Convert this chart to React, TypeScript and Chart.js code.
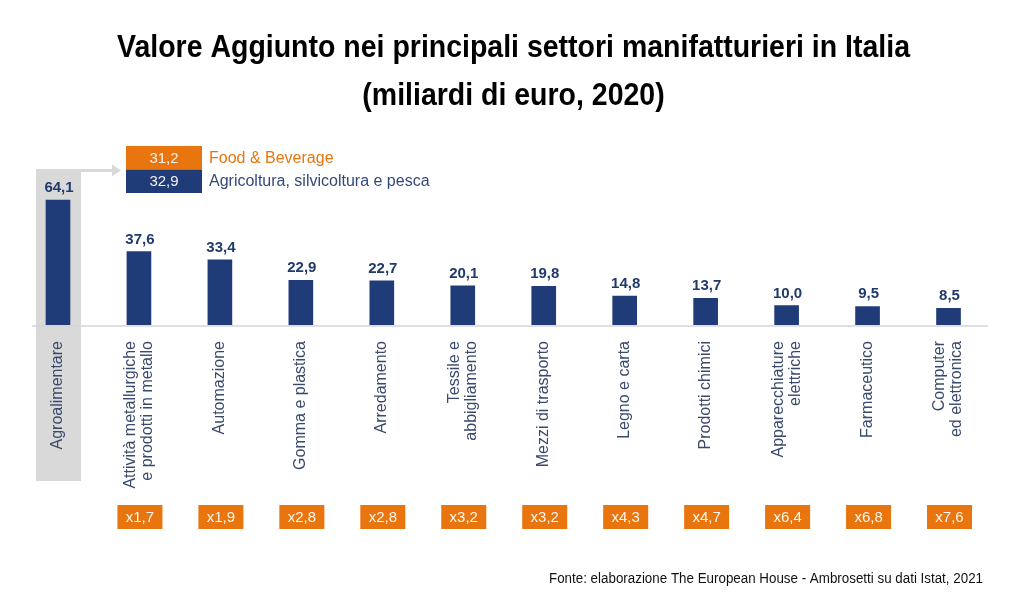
import React, { useEffect, useRef } from "react";
import { Chart, registerables } from "chart.js";

Chart.register(...registerables);

const titleLines = [
  "Valore Aggiunto nei principali settori manifatturieri in Italia",
  "(miliardi di euro, 2020)",
];
const categories: (string | string[])[] = [
  "Agroalimentare",
  ["Attività metallurgiche", "e prodotti in metallo"],
  "Automazione",
  "Gomma e plastica",
  "Arredamento",
  ["Tessile e", "abbigliamento"],
  "Mezzi di trasporto",
  "Legno e carta",
  "Prodotti chimici",
  ["Apparecchiature", "elettriche"],
  "Farmaceutico",
  ["Computer", "ed elettronica"],
];
const values = [64.1, 37.6, 33.4, 22.9, 22.7, 20.1, 19.8, 14.8, 13.7, 10.0, 9.5, 8.5];
const multipliers = ["", "x1,7", "x1,9", "x2,8", "x2,8", "x3,2", "x3,2", "x4,3", "x4,7", "x6,4", "x6,8", "x7,6"];
const legendLabels = ["Food & Beverage", "Agricoltura, silvicoltura e pesca"];
const legendValues = [31.2, 32.9];
const sourceNote = "Fonte: elaborazione The European House - Ambrosetti su dati Istat, 2021";

const NAVY = "#1f3c78";
const ORANGE = "#e8750e";
const GRAY_BG = "#d9d9d9";
const LABEL_COLOR = "#3a4a6c";
const SANS = '"Liberation Sans", Arial, sans-serif';
const NARROW = '"Liberation Sans Narrow", "Arial Narrow", "Liberation Sans", Arial, sans-serif';

const fmt = (v: number) => v.toFixed(1).replace(".", ",");

const decorPlugin = {
  id: "decor",
  beforeDatasetsDraw(chart: any) {
    const ctx = chart.ctx;
    const x = chart.scales.x;
    const cx0 = x.getPixelForValue(0);
    ctx.save();
    ctx.fillStyle = GRAY_BG;
    ctx.fillRect(cx0 - 22, 169, 45, 312);
    // arrow to legend
    ctx.strokeStyle = GRAY_BG;
    ctx.lineWidth = 3;
    ctx.beginPath();
    ctx.moveTo(cx0 + 23, 170.5);
    ctx.lineTo(114, 170.5);
    ctx.stroke();
    ctx.fillStyle = GRAY_BG;
    ctx.beginPath();
    ctx.moveTo(121, 170.5);
    ctx.lineTo(112, 164.5);
    ctx.lineTo(112, 176.5);
    ctx.closePath();
    ctx.fill();
    // baseline
    const y0 = chart.scales.y.getPixelForValue(0);
    ctx.strokeStyle = "#d4d4d8";
    ctx.lineWidth = 1.5;
    ctx.beginPath();
    ctx.moveTo(32, y0 + 1);
    ctx.lineTo(988, y0 + 1);
    ctx.stroke();
    ctx.restore();
  },
  afterDatasetsDraw(chart: any) {
    const ctx = chart.ctx;
    const xs = chart.scales.x;
    const ys = chart.scales.y;
    ctx.save();
    // title
    ctx.fillStyle = "#000";
    ctx.font = "bold 31px " + NARROW;
    ctx.textBaseline = "alphabetic";
    ctx.textAlign = "left";
    const w1 = ctx.measureText(titleLines[0]).width;
    const sx = 793 / w1;
    const tys = [57, 105];
    titleLines.forEach((t, i) => {
      const w = ctx.measureText(t).width * sx;
      ctx.save();
      ctx.translate(513.5 - w / 2, tys[i]);
      ctx.scale(sx, 1);
      ctx.fillText(t, 0, 0);
      ctx.restore();
    });
    // value labels
    ctx.font = "bold 15px " + SANS;
    ctx.fillStyle = "#1f3a6b";
    ctx.textAlign = "center";
    ctx.textBaseline = "alphabetic";
    values.forEach((v, i) => {
      ctx.fillText(fmt(v), xs.getPixelForValue(i) + 1, ys.getPixelForValue(v) - 8);
    });
    // category labels (rotated)
    ctx.font = "16px " + SANS;
    ctx.fillStyle = LABEL_COLOR;
    ctx.textAlign = "right";
    ctx.textBaseline = "middle";
    categories.forEach((c, i) => {
      const lines = Array.isArray(c) ? c : [c];
      const cx = xs.getPixelForValue(i);
      ctx.save();
      ctx.translate(cx, 341);
      ctx.rotate(-Math.PI / 2);
      lines.forEach((l, j) => {
        ctx.fillText(l, 0, (j - (lines.length - 1) / 2) * 17);
      });
      ctx.restore();
    });
    // multiplier boxes
    ctx.font = "15px " + SANS;
    ctx.textAlign = "center";
    ctx.textBaseline = "middle";
    multipliers.forEach((m, i) => {
      if (!m) return;
      const cx = xs.getPixelForValue(i) + 1;
      ctx.fillStyle = ORANGE;
      ctx.fillRect(cx - 22.5, 505, 45, 24);
      ctx.fillStyle = "#fff6ee";
      ctx.fillText(m, cx, 518);
    });
    // legend boxes
    const colors = [ORANGE, NAVY];
    const textColors = [ORANGE, "#34497a"];
    legendValues.forEach((v, i) => {
      const top = 146 + i * 23.5;
      ctx.fillStyle = colors[i];
      ctx.fillRect(126, top, 76, 23.5);
      ctx.font = "15px " + SANS;
      ctx.textAlign = "center";
      ctx.fillStyle = "#f4f0ee";
      ctx.fillText(fmt(v), 164, top + 12.5);
      ctx.font = "16px " + SANS;
      ctx.textAlign = "left";
      ctx.fillStyle = textColors[i];
      ctx.fillText(legendLabels[i], 209, top + 12.5);
    });
    // source
    ctx.font = "14px " + SANS;
    ctx.fillStyle = "#111";
    ctx.textAlign = "left";
    ctx.textBaseline = "alphabetic";
    const ws = ctx.measureText(sourceNote).width;
    const ssx = 434 / ws;
    ctx.save();
    ctx.translate(549, 583);
    ctx.scale(ssx, 1);
    ctx.fillText(sourceNote, 0, 0);
    ctx.restore();
    ctx.restore();
  },
};

export default function App() {
  const ref = useRef<HTMLCanvasElement | null>(null);
  useEffect(() => {
    if (!ref.current) return;
    const chart = new Chart(ref.current, {
      type: "bar",
      data: {
        labels: categories as any,
        datasets: [
          {
            data: values,
            backgroundColor: NAVY,
            barThickness: 24,
          },
        ],
      },
      options: {
        animation: false,
        responsive: false,
        layout: { padding: { left: 17.5, right: 35, top: 169, bottom: 285 } },
        plugins: { legend: { display: false }, title: { display: false }, tooltip: { enabled: false } },
        scales: {
          x: { display: false },
          y: { display: false, min: 0, max: 80 },
        },
      },
      plugins: [decorPlugin],
    });
    return () => chart.destroy();
  }, []);
  return (
    <div style={{ position: "fixed", left: 0, top: 0, width: 1024, height: 610, background: "#fff" }}>
      <canvas ref={ref} width={1024} height={610} style={{ width: 1024, height: 610 }} />
    </div>
  );
}
